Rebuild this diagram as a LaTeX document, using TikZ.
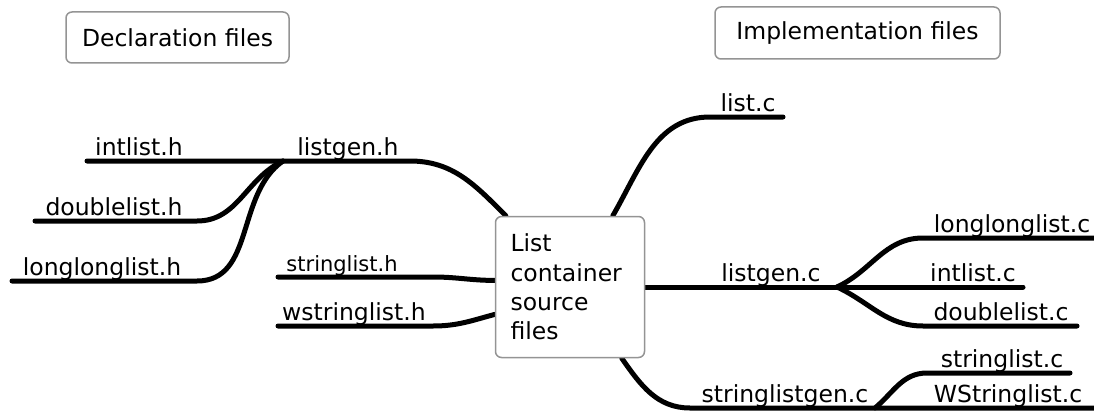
\documentclass[tikz,border=0pt]{standalone}
\usepackage{fontspec}
\setmainfont{DejaVu Sans}
\usetikzlibrary{positioning}
\usetikzlibrary{backgrounds}

\tikzset{
    title/.style={draw=black!42, line width=1.5pt, rounded corners=6pt, fill=white, inner sep=0pt, font=\fontsize{23.5}{29.3}\selectfont},
    leaf/.style={anchor=base, inner sep=0pt, font=\fontsize{23.5}{28}\selectfont},
    branch/.style={line width=5pt, line cap=round},
}

\begin{document}
\begin{tikzpicture}[x=1pt,y=1pt]
    \useasboundingbox (0,0) rectangle (1094,-412);

    \node[title, minimum width=223pt, minimum height=51pt] (decl) at (177.5,-37.5) {Declaration files};
    \node[title, minimum width=285pt, minimum height=52pt] (impl) at (857.5,-33) {Implementation files};
    \node[title, minimum width=149pt, minimum height=141pt, text width=119pt, align=left] (root) at (570,-287) {List\\container\\source\\files};

    \node[leaf] (ih) at (139,-155) {intlist.h};
    \node[leaf] (gh) at (348,-155) {listgen.h};
    \node[leaf] (dh) at (114,-215) {doublelist.h};
    \node[leaf] (lh) at (102,-275) {longlonglist.h};
    \node[leaf, font=\fontsize{21}{25}\selectfont] (sh) at (342,-271) {stringlist.h};
    \node[leaf] (wh) at (354,-320) {wstringlist.h};
    \node[leaf] (lc) at (748,-111) {list.c};
    \node[leaf] (gc) at (771,-281) {listgen.c};
    \node[leaf] (llc) at (1012,-232) {longlonglist.c};
    \node[leaf] (ic) at (973,-281) {intlist.c};
    \node[leaf] (dc) at (1001,-320) {doublelist.c};
    \node[leaf] (sc) at (1002,-367) {stringlist.c};
    \node[leaf] (wc) at (1008,-402) {WStringlist.c};
    \node[leaf] (sg) at (785,-402) {stringlistgen.c};

    \coordinate (hfork) at (283,-161);
    \coordinate (ih0) at (87,-161);
    \coordinate (gh1) at (410,-161);
    \coordinate (dh0) at (35,-221);
    \coordinate (dh1) at (197,-221);
    \coordinate (lh0) at (12,-281);
    \coordinate (lh1) at (197,-281);
    \coordinate (sh0) at (278,-277);
    \coordinate (sh1) at (433,-277);
    \coordinate (wh0) at (278,-326);
    \coordinate (wh1) at (433,-326);
    \coordinate (lc0) at (710,-117);
    \coordinate (lc1) at (783,-117);
    \coordinate (cfork) at (837,-287);
    \coordinate (llc0) at (923,-238);
    \coordinate (llc1) at (1094,-238);
    \coordinate (ic1) at (1023,-287);
    \coordinate (dc0) at (923,-326);
    \coordinate (dc1) at (1077,-326);
    \coordinate (sg0) at (690,-408);
    \coordinate (sfork) at (875,-408);
    \coordinate (wc1) at (1094,-408);
    \coordinate (sc0) at (927,-373);
    \coordinate (sc1) at (1070,-373);

    \begin{scope}[on background layer]
        \draw[branch] (ih0) -- (hfork) -- (gh1) to[out=0,in=135] (root.132);
        \draw[branch] (dh0) -- (dh1) to[out=0,in=205] (hfork);
        \draw[branch] (lh0) -- (lh1) to[out=0,in=215] (hfork);
        \draw[branch] (sh0) -- (sh1) to[out=0,in=180] (root.175);
        \draw[branch] (wh0) -- (wh1) to[out=0,in=195] (root.200);
        \draw[branch] (root.59) to[out=60,in=180] (lc0) -- (lc1);
        \draw[branch] (root.east) -- (cfork) -- (ic1);
        \draw[branch] (cfork) to[out=25,in=180] (llc0) -- (llc1);
        \draw[branch] (cfork) to[out=-25,in=180] (dc0) -- (dc1);
        \draw[branch] (root.306) to[out=-55,in=180] (sg0) -- (sfork) -- (wc1);
        \draw[branch] (sfork) to[out=40,in=180] (sc0) -- (sc1);
    \end{scope}
\end{tikzpicture}
\end{document}
